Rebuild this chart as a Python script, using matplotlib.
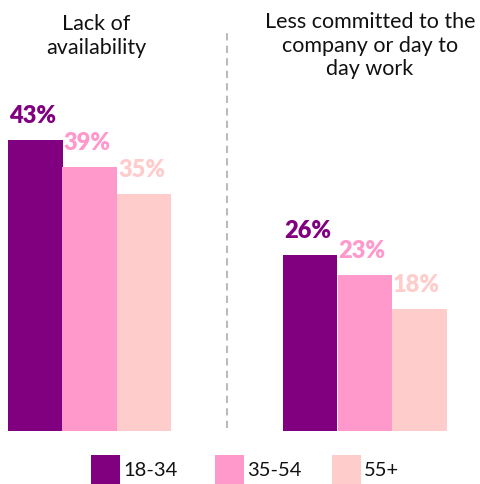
import matplotlib
matplotlib.use("Agg")
import matplotlib.pyplot as plt
import numpy as np
from matplotlib.patches import Rectangle

categories = ["Lack of\navailability", "Less committed to the\ncompany or day to\nday work"]
age_groups = ["18-34", "35-54", "55+"]
values = {
    "18-34": [43, 26],
    "35-54": [39, 23],
    "55+": [35, 18],
}
colors = ["#800080", "#FF99CC", "#FFCCCC"]

plt.rcParams["font.family"] = ["Lato", "DejaVu Sans"]

W, H = 480, 484
fig = plt.figure(figsize=(W / 100, H / 100), dpi=100)
ax = fig.add_axes([0, 0, 1, 1])

# pixel layout: group spacing 275 px, bar width 54.5 px, baseline 53 px up
px_per_unit = 275.0
px_per_pct = 6.77
x0_px = 89.75
base_px = 53.0
ax.set_xlim(-x0_px / px_per_unit, (W - x0_px) / px_per_unit)
ax.set_ylim(-base_px / px_per_pct, (H - base_px) / px_per_pct)
ax.axis("off")

bar_w = 54.5 / px_per_unit
x = np.arange(len(categories))
for i, (grp, col) in enumerate(zip(age_groups, colors)):
    pos = x + (i - 1) * bar_w
    ax.bar(pos, values[grp], bar_w, color=col, linewidth=0)
    for p, v in zip(pos, values[grp]):
        ax.text(p - bar_w / 2 + 0.004, v + 1.9, f"{v}%", color=col,
                fontsize=17, fontweight="heavy", ha="left", va="bottom")

# category titles
title_px = [(96, 470), (370, 472)]
for (tx, ty), label in zip(title_px, categories):
    fig.text(tx / W, ty / H, label, ha="center", va="top", fontsize=15.5,
             color="#111111", linespacing=1.22)

# dashed separator between groups
sep_x = (227 - x0_px) / px_per_unit
ax.plot([sep_x, sep_x], [0.4, (H - base_px - 28) / px_per_pct],
        color="#BBBBBB", lw=1.5, ls=(0, (3.5, 2.5)))

# legend
legend_left = [91, 215, 332]
sq = 29
for lx, grp, col in zip(legend_left, age_groups, colors):
    fig.patches.append(Rectangle((lx / W, 0), sq / W, sq / H,
                                 transform=fig.transFigure, color=col, lw=0))
    fig.text((lx + sq + 3) / W, 14 / H, grp, ha="left", va="center",
             fontsize=14.5, color="#111111")

fig.savefig("out.png", dpi=100)
